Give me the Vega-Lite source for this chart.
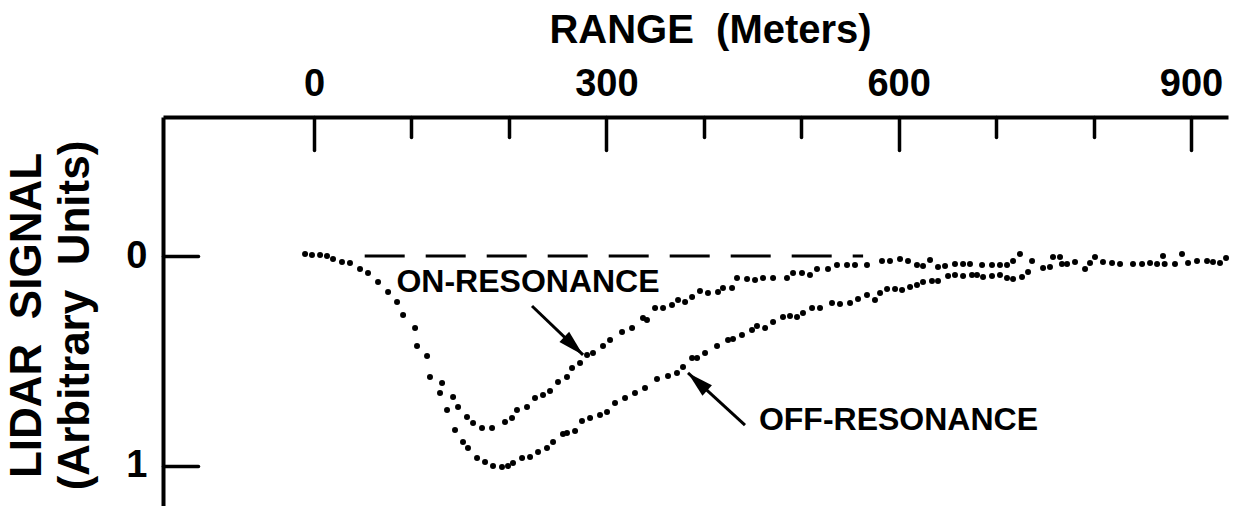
{
  "$schema": "https://vega.github.io/schema/vega-lite/v6.json",
  "width": 1065,
  "height": 389,
  "autosize": "none",
  "padding": {"left": 163, "top": 117, "right": 5, "bottom": 0},
  "background": "white",
  "config": {
    "view": {"stroke": null},
    "font": "Liberation Sans",
    "axis": {
      "grid": false,
      "domainColor": "black",
      "domainWidth": 4,
      "tickColor": "black",
      "tickWidth": 3.5,
      "tickCap": "round",
      "labelColor": "black",
      "labelFont": "Liberation Sans",
      "labelFontSize": 38,
      "labelFontWeight": "bold",
      "titleColor": "black",
      "titleFont": "Liberation Sans",
      "titleFontWeight": "bold",
      "labelFlush": false,
      "labelOverlap": false
    }
  },
  "datasets": {
    "curves": [
      {"series": "off", "range": -9.2, "signal": -0.01},
      {"series": "off", "range": -2.1, "signal": -0.005},
      {"series": "off", "range": 6.2, "signal": -0.005},
      {"series": "off", "range": 13.3, "signal": 0.0},
      {"series": "off", "range": 19.5, "signal": 0.014},
      {"series": "off", "range": 28.7, "signal": 0.029},
      {"series": "off", "range": 36.9, "signal": 0.033},
      {"series": "off", "range": 47.2, "signal": 0.062},
      {"series": "off", "range": 55.4, "signal": 0.081},
      {"series": "off", "range": 65.7, "signal": 0.124},
      {"series": "off", "range": 76.0, "signal": 0.171},
      {"series": "off", "range": 85.2, "signal": 0.219},
      {"series": "off", "range": 91.4, "signal": 0.281},
      {"series": "off", "range": 105.7, "signal": 0.429},
      {"series": "off", "range": 119.0, "signal": 0.576},
      {"series": "off", "range": 129.3, "signal": 0.652},
      {"series": "off", "range": 136.5, "signal": 0.733},
      {"series": "off", "range": 144.7, "signal": 0.829},
      {"series": "off", "range": 152.9, "signal": 0.886},
      {"series": "off", "range": 158.0, "signal": 0.914},
      {"series": "off", "range": 167.3, "signal": 0.962},
      {"series": "off", "range": 175.5, "signal": 0.981},
      {"series": "off", "range": 183.7, "signal": 1.0},
      {"series": "off", "range": 192.9, "signal": 1.005},
      {"series": "off", "range": 199.1, "signal": 1.0},
      {"series": "off", "range": 204.2, "signal": 0.986},
      {"series": "off", "range": 213.5, "signal": 0.962},
      {"series": "off", "range": 221.7, "signal": 0.957},
      {"series": "off", "range": 229.9, "signal": 0.933},
      {"series": "off", "range": 239.1, "signal": 0.914},
      {"series": "off", "range": 245.3, "signal": 0.886},
      {"series": "off", "range": 255.5, "signal": 0.848},
      {"series": "off", "range": 259.6, "signal": 0.843},
      {"series": "off", "range": 267.9, "signal": 0.833},
      {"series": "off", "range": 275.0, "signal": 0.786},
      {"series": "off", "range": 283.3, "signal": 0.771},
      {"series": "off", "range": 293.5, "signal": 0.757},
      {"series": "off", "range": 300.7, "signal": 0.743},
      {"series": "off", "range": 308.9, "signal": 0.7},
      {"series": "off", "range": 319.2, "signal": 0.676},
      {"series": "off", "range": 329.4, "signal": 0.652},
      {"series": "off", "range": 339.7, "signal": 0.629},
      {"series": "off", "range": 352.0, "signal": 0.586},
      {"series": "off", "range": 363.3, "signal": 0.571},
      {"series": "off", "range": 372.5, "signal": 0.557},
      {"series": "off", "range": 378.7, "signal": 0.529},
      {"series": "off", "range": 388.0, "signal": 0.486},
      {"series": "off", "range": 393.1, "signal": 0.486},
      {"series": "off", "range": 401.3, "signal": 0.462},
      {"series": "off", "range": 413.6, "signal": 0.429},
      {"series": "off", "range": 424.9, "signal": 0.4},
      {"series": "off", "range": 430.0, "signal": 0.395},
      {"series": "off", "range": 439.2, "signal": 0.376},
      {"series": "off", "range": 449.5, "signal": 0.352},
      {"series": "off", "range": 454.6, "signal": 0.333},
      {"series": "off", "range": 462.9, "signal": 0.343},
      {"series": "off", "range": 471.1, "signal": 0.314},
      {"series": "off", "range": 481.3, "signal": 0.29},
      {"series": "off", "range": 488.5, "signal": 0.286},
      {"series": "off", "range": 495.7, "signal": 0.29},
      {"series": "off", "range": 501.8, "signal": 0.271},
      {"series": "off", "range": 511.1, "signal": 0.248},
      {"series": "off", "range": 519.3, "signal": 0.248},
      {"series": "off", "range": 531.6, "signal": 0.224},
      {"series": "off", "range": 539.8, "signal": 0.229},
      {"series": "off", "range": 550.1, "signal": 0.224},
      {"series": "off", "range": 558.3, "signal": 0.205},
      {"series": "off", "range": 567.5, "signal": 0.186},
      {"series": "off", "range": 575.7, "signal": 0.21},
      {"series": "off", "range": 580.9, "signal": 0.176},
      {"series": "off", "range": 588.1, "signal": 0.157},
      {"series": "off", "range": 596.3, "signal": 0.157},
      {"series": "off", "range": 603.5, "signal": 0.162},
      {"series": "off", "range": 611.7, "signal": 0.148},
      {"series": "off", "range": 618.8, "signal": 0.138},
      {"series": "off", "range": 625.0, "signal": 0.124},
      {"series": "off", "range": 634.2, "signal": 0.119},
      {"series": "off", "range": 640.4, "signal": 0.119},
      {"series": "off", "range": 650.7, "signal": 0.095},
      {"series": "off", "range": 657.8, "signal": 0.09},
      {"series": "off", "range": 666.1, "signal": 0.095},
      {"series": "off", "range": 675.3, "signal": 0.09},
      {"series": "off", "range": 680.4, "signal": 0.09},
      {"series": "off", "range": 686.6, "signal": 0.1},
      {"series": "off", "range": 695.8, "signal": 0.095},
      {"series": "off", "range": 704.0, "signal": 0.09},
      {"series": "off", "range": 711.2, "signal": 0.105},
      {"series": "off", "range": 717.4, "signal": 0.11},
      {"series": "off", "range": 726.6, "signal": 0.1},
      {"series": "off", "range": 732.8, "signal": 0.076},
      {"series": "off", "range": 736.9, "signal": 0.024},
      {"series": "off", "range": 748.2, "signal": 0.057},
      {"series": "off", "range": 755.3, "signal": 0.052},
      {"series": "off", "range": 758.4, "signal": 0.005},
      {"series": "off", "range": 765.6, "signal": 0.005},
      {"series": "off", "range": 767.6, "signal": 0.038},
      {"series": "off", "range": 772.8, "signal": 0.038},
      {"series": "off", "range": 781.0, "signal": 0.029},
      {"series": "off", "range": 791.3, "signal": 0.062},
      {"series": "off", "range": 796.4, "signal": 0.033},
      {"series": "off", "range": 801.5, "signal": 0.005},
      {"series": "off", "range": 809.7, "signal": 0.029},
      {"series": "off", "range": 819.0, "signal": 0.033},
      {"series": "off", "range": 827.2, "signal": 0.038},
      {"series": "off", "range": 840.5, "signal": 0.038},
      {"series": "off", "range": 849.8, "signal": 0.038},
      {"series": "off", "range": 858.0, "signal": 0.033},
      {"series": "off", "range": 865.2, "signal": 0.038},
      {"series": "off", "range": 871.3, "signal": 0.0},
      {"series": "off", "range": 873.0, "signal": 0.038},
      {"series": "off", "range": 883.6, "signal": 0.038},
      {"series": "off", "range": 890.8, "signal": -0.01},
      {"series": "off", "range": 897.0, "signal": 0.033},
      {"series": "off", "range": 906.2, "signal": 0.024},
      {"series": "off", "range": 916.5, "signal": 0.024},
      {"series": "off", "range": 922.6, "signal": 0.029},
      {"series": "off", "range": 929.8, "signal": 0.033},
      {"series": "off", "range": 936.0, "signal": 0.01},
      {"series": "on", "range": 103.7, "signal": 0.343},
      {"series": "on", "range": 116.0, "signal": 0.476},
      {"series": "on", "range": 131.4, "signal": 0.605},
      {"series": "on", "range": 142.7, "signal": 0.671},
      {"series": "on", "range": 147.8, "signal": 0.719},
      {"series": "on", "range": 157.0, "signal": 0.767},
      {"series": "on", "range": 163.2, "signal": 0.795},
      {"series": "on", "range": 172.4, "signal": 0.819},
      {"series": "on", "range": 182.7, "signal": 0.819},
      {"series": "on", "range": 196.0, "signal": 0.79},
      {"series": "on", "range": 203.2, "signal": 0.771},
      {"series": "on", "range": 208.3, "signal": 0.733},
      {"series": "on", "range": 218.6, "signal": 0.719},
      {"series": "on", "range": 226.8, "signal": 0.676},
      {"series": "on", "range": 235.0, "signal": 0.662},
      {"series": "on", "range": 242.2, "signal": 0.643},
      {"series": "on", "range": 250.4, "signal": 0.6},
      {"series": "on", "range": 259.6, "signal": 0.576},
      {"series": "on", "range": 264.8, "signal": 0.533},
      {"series": "on", "range": 273.0, "signal": 0.51},
      {"series": "on", "range": 280.2, "signal": 0.471},
      {"series": "on", "range": 286.3, "signal": 0.462},
      {"series": "on", "range": 296.6, "signal": 0.429},
      {"series": "on", "range": 303.8, "signal": 0.4},
      {"series": "on", "range": 316.1, "signal": 0.362},
      {"series": "on", "range": 326.4, "signal": 0.343},
      {"series": "on", "range": 337.6, "signal": 0.295},
      {"series": "on", "range": 341.7, "signal": 0.305},
      {"series": "on", "range": 350.0, "signal": 0.248},
      {"series": "on", "range": 358.2, "signal": 0.248},
      {"series": "on", "range": 367.4, "signal": 0.233},
      {"series": "on", "range": 373.6, "signal": 0.21},
      {"series": "on", "range": 380.8, "signal": 0.219},
      {"series": "on", "range": 388.0, "signal": 0.195},
      {"series": "on", "range": 396.1, "signal": 0.167},
      {"series": "on", "range": 404.3, "signal": 0.176},
      {"series": "on", "range": 414.6, "signal": 0.171},
      {"series": "on", "range": 419.7, "signal": 0.152},
      {"series": "on", "range": 429.0, "signal": 0.152},
      {"series": "on", "range": 434.1, "signal": 0.105},
      {"series": "on", "range": 444.4, "signal": 0.11},
      {"series": "on", "range": 452.6, "signal": 0.114},
      {"series": "on", "range": 460.8, "signal": 0.105},
      {"series": "on", "range": 471.1, "signal": 0.105},
      {"series": "on", "range": 485.4, "signal": 0.105},
      {"series": "on", "range": 491.6, "signal": 0.081},
      {"series": "on", "range": 500.8, "signal": 0.081},
      {"series": "on", "range": 509.0, "signal": 0.09},
      {"series": "on", "range": 516.2, "signal": 0.062},
      {"series": "on", "range": 527.5, "signal": 0.062},
      {"series": "on", "range": 536.7, "signal": 0.043},
      {"series": "on", "range": 547.0, "signal": 0.043},
      {"series": "on", "range": 555.2, "signal": 0.043},
      {"series": "on", "range": 567.5, "signal": 0.043},
      {"series": "on", "range": 582.9, "signal": 0.024},
      {"series": "on", "range": 591.1, "signal": 0.024},
      {"series": "on", "range": 601.4, "signal": 0.014},
      {"series": "on", "range": 609.6, "signal": 0.024},
      {"series": "on", "range": 618.8, "signal": 0.043},
      {"series": "on", "range": 625.0, "signal": 0.048},
      {"series": "on", "range": 632.2, "signal": 0.019},
      {"series": "on", "range": 640.4, "signal": 0.052},
      {"series": "on", "range": 647.6, "signal": 0.048},
      {"series": "on", "range": 657.8, "signal": 0.038},
      {"series": "on", "range": 666.1, "signal": 0.038},
      {"series": "on", "range": 673.2, "signal": 0.038},
      {"series": "on", "range": 685.6, "signal": 0.043},
      {"series": "on", "range": 695.8, "signal": 0.043},
      {"series": "on", "range": 704.0, "signal": 0.043},
      {"series": "on", "range": 711.2, "signal": 0.043},
      {"series": "on", "range": 717.4, "signal": 0.024},
      {"series": "on", "range": 724.5, "signal": -0.01}
    ],
    "baseline": [
      {"range": 52, "range2": 563.5, "signal": 0}
    ],
    "labels": [
      {"text": "ON-RESONANCE", "range": 219.6, "signal": 0.171},
      {"text": "OFF-RESONANCE", "range": 599.8, "signal": 0.829}
    ],
    "arrows": [
      {"label": "ON", "range": 223.7, "signal": 0.238, "range2": 276.1, "signal2": 0.471},
      {"label": "OFF", "range": 442.3, "signal": 0.805, "range2": 383.8, "signal2": 0.557}
    ],
    "arrowheads": [
      {"label": "ON", "range": 276.1, "signal": 0.471},
      {"label": "OFF", "range": 383.8, "signal": 0.557}
    ]
  },
  "encoding": {
    "x": {
      "field": "range",
      "type": "quantitative",
      "scale": {"domain": [-155, 938], "nice": false, "zero": false},
      "axis": {
        "orient": "top",
        "values": [0, 100, 200, 300, 400, 500, 600, 700, 800, 900],
        "tickSize": {"condition": {"test": "datum.value % 300 === 0", "value": -33}, "value": -20},
        "labelExpr": "datum.value % 300 === 0 ? datum.label : ''",
        "labelPadding": 47,
        "title": "RANGE\u00a0 (Meters)",
        "titleFontSize": 40,
        "titleX": 547,
        "titleY": -75,
        "titleAlign": "center",
        "titleBaseline": "alphabetic"
      }
    },
    "y": {
      "field": "signal",
      "type": "quantitative",
      "scale": {"domain": [-0.662, 1.1905], "reverse": true, "nice": false, "zero": false},
      "axis": {
        "orient": "left",
        "values": [0, 1],
        "tickSize": -35,
        "labelPadding": 51,
        "labelBaseline": "middle",
        "title": ["LIDAR\u00a0 SIGNAL", "(Arbitrary\u00a0 Units)"],
        "titleFontSize": 44,
        "titleLineHeight": 48,
        "titleAngle": -90,
        "titleX": -123,
        "titleY": 198,
        "titleAlign": "center",
        "titleBaseline": "alphabetic"
      }
    }
  },
  "layer": [
    {
      "data": {"name": "baseline"},
      "mark": {"type": "rule", "color": "black", "strokeWidth": 3, "strokeDash": [40, 21]},
      "encoding": {"x2": {"field": "range2"}}
    },
    {
      "data": {"name": "curves"},
      "mark": {"type": "point", "filled": true, "size": 36, "color": "black", "opacity": 1}
    },
    {
      "data": {"name": "arrows"},
      "mark": {"type": "rule", "color": "black", "strokeWidth": 3},
      "encoding": {"x2": {"field": "range2"}, "y2": {"field": "signal2"}}
    },
    {
      "data": {"name": "arrowheads"},
      "transform": [{"filter": "datum.label === 'ON'"}],
      "mark": {"type": "point", "filled": true, "color": "black", "opacity": 1, "shape": "M0,0L-0.27,1L0.27,1Z", "size": 2704, "angle": 133.8}
    },
    {
      "data": {"name": "arrowheads"},
      "transform": [{"filter": "datum.label === 'OFF'"}],
      "mark": {"type": "point", "filled": true, "color": "black", "opacity": 1, "shape": "M0,0L-0.27,1L0.27,1Z", "size": 2704, "angle": -47.6}
    },
    {
      "data": {"name": "labels"},
      "mark": {"type": "text", "color": "black", "font": "Liberation Sans", "fontSize": 32, "fontWeight": "bold", "align": "center", "baseline": "alphabetic"},
      "encoding": {"text": {"field": "text"}}
    }
  ]
}
